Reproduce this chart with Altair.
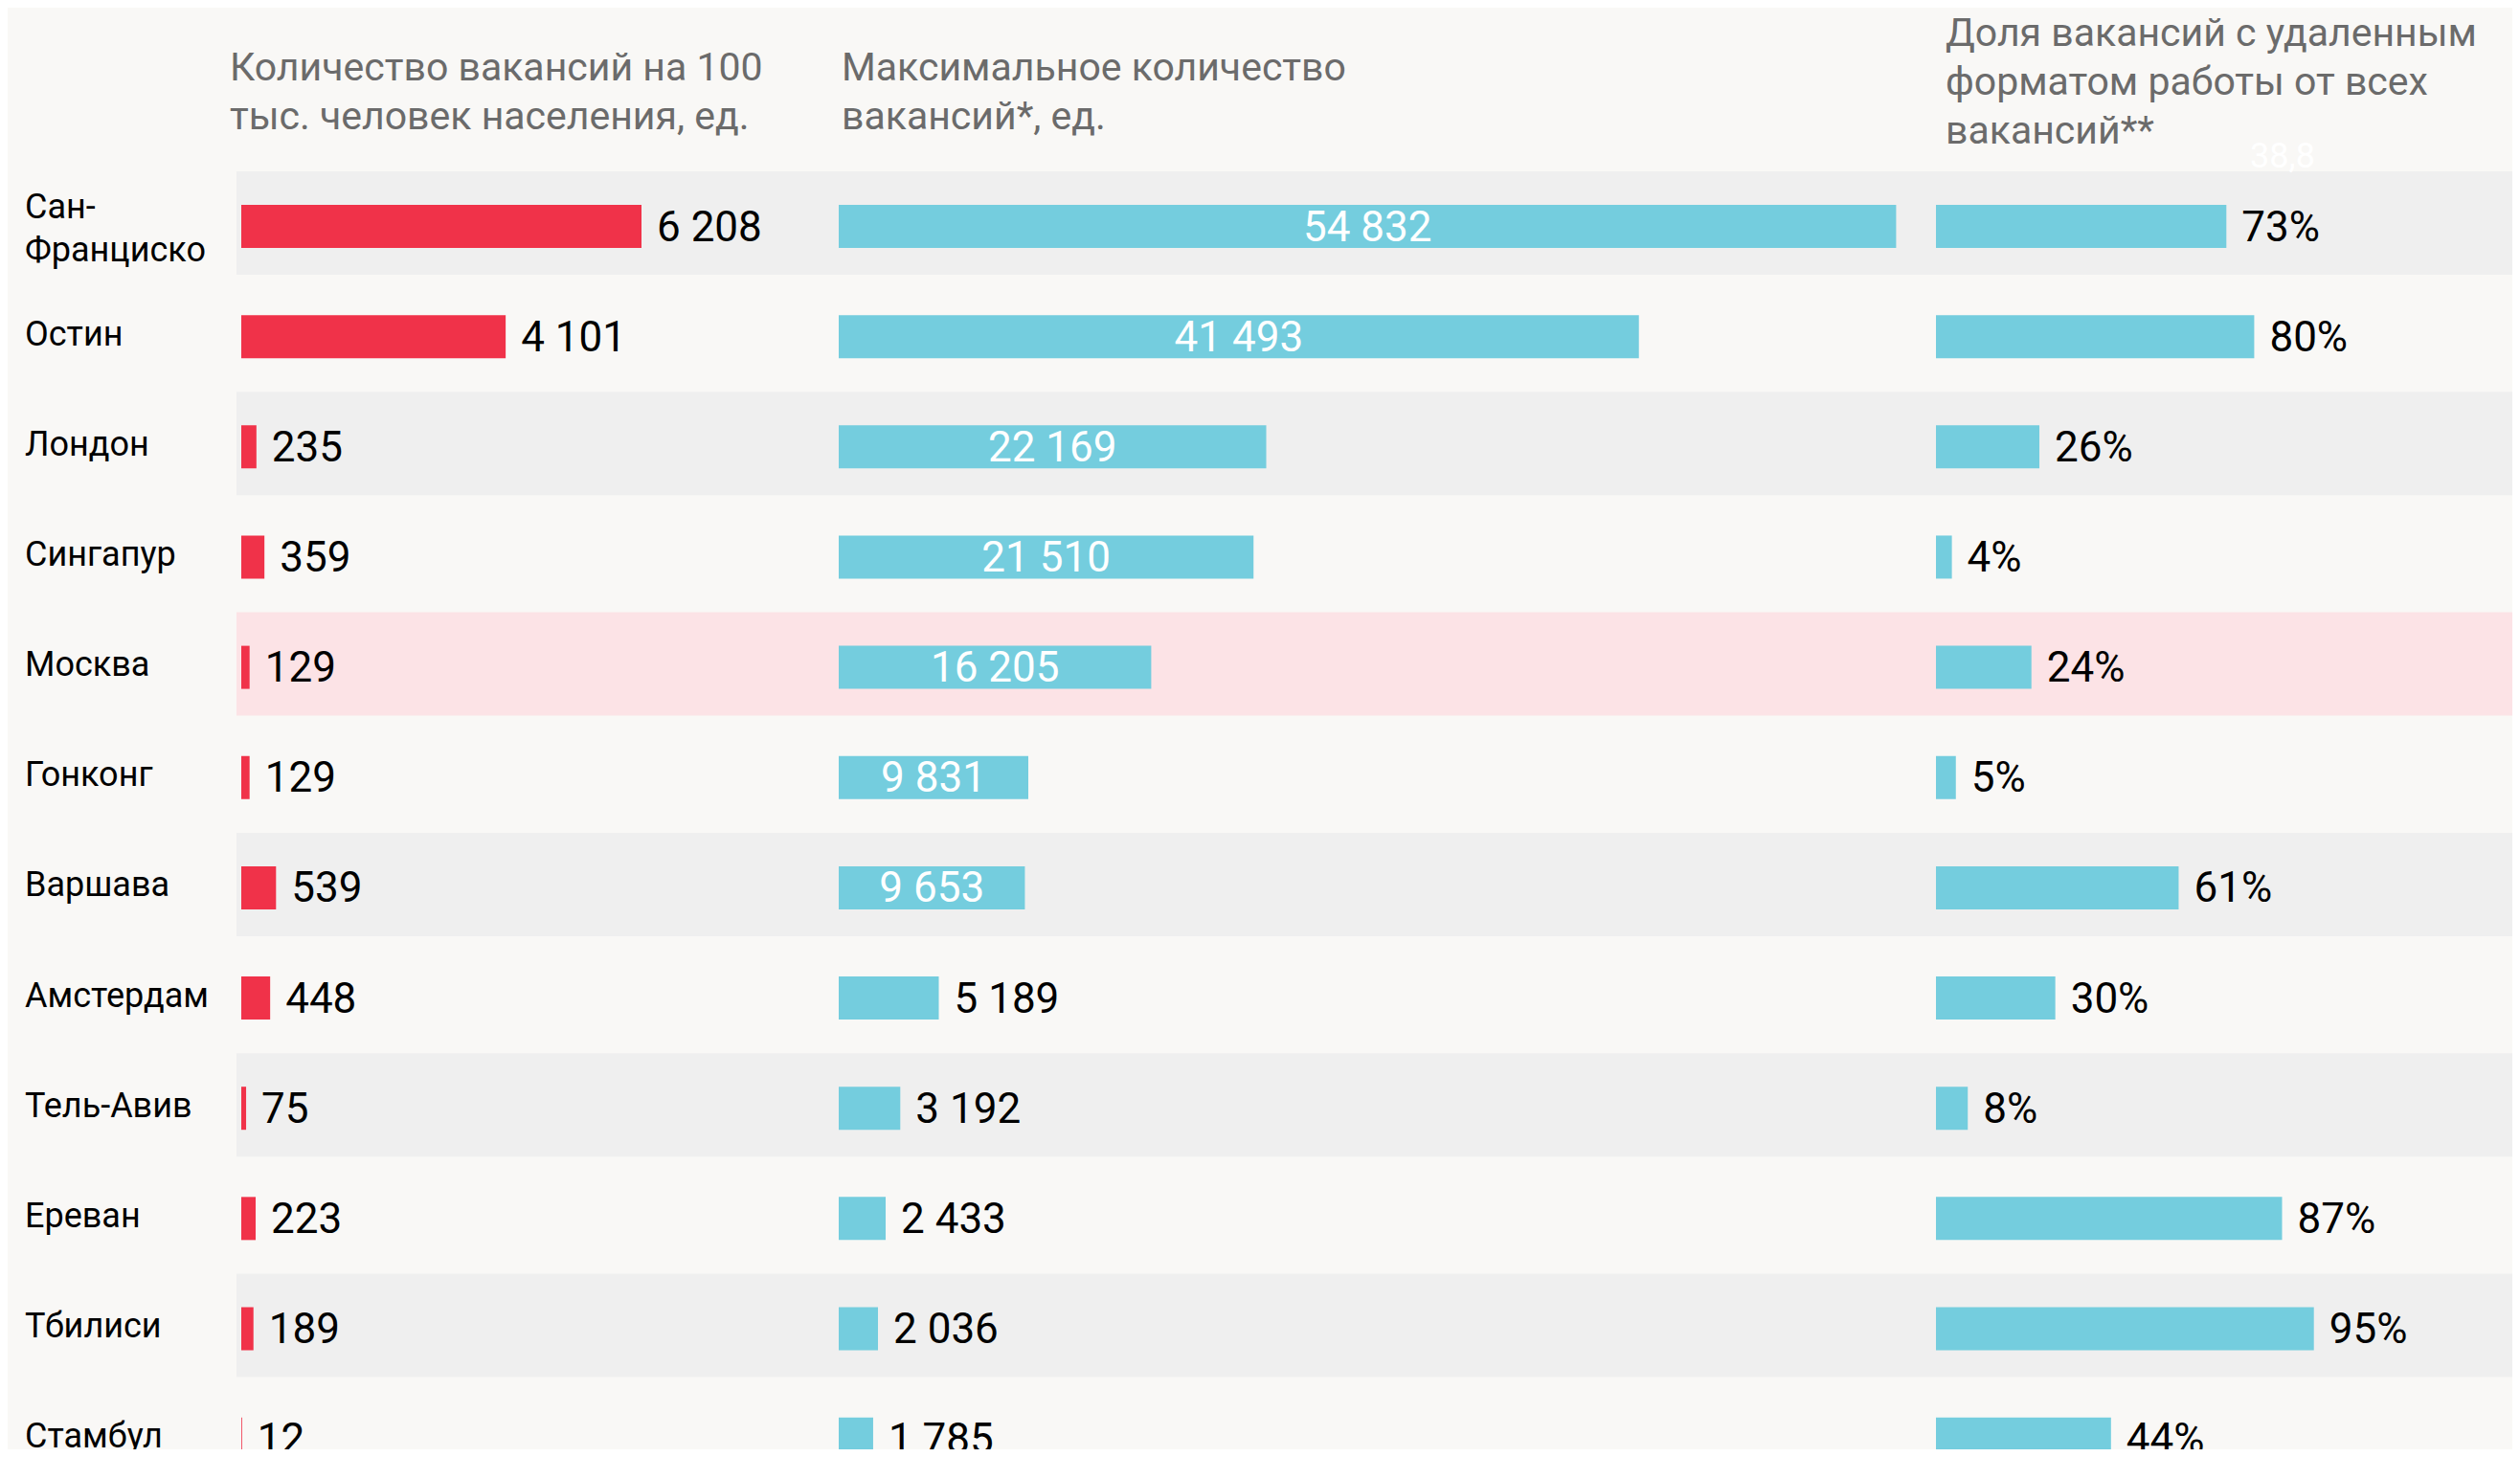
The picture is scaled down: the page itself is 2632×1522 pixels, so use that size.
import altair as alt
import pandas as pd

# ---------------- data ----------------
cities = ["Сан-\nФранциско", "Остин", "Лондон", "Сингапур", "Москва", "Гонконг",
          "Варшава", "Амстердам", "Тель-Авив", "Ереван", "Тбилиси", "Стамбул"]
per_100k = [6208, 4101, 235, 359, 129, 129, 539, 448, 75, 223, 189, 12]
max_vacancies = [54832, 41493, 22169, 21510, 16205, 9831, 9653, 5189, 3192, 2433, 2036, 1785]
remote_share = [73, 80, 26, 4, 24, 5, 61, 30, 8, 87, 95, 44]

headers = [
    "Количество вакансий на 100\nтыс. человек населения, ед.",
    "Максимальное количество\nвакансий*, ед.",
    "Доля вакансий с удаленным\nформатом работы от всех\nвакансий**",
]
stray_label = "38,8"
highlight_city = "Москва"


def fmt(v):
    return f"{v:,}".replace(",", " ")


df = pd.DataFrame({
    "i": list(range(len(cities))),
    "city": cities,
    "v1": per_100k,
    "v2": max_vacancies,
    "v3": remote_share,
    "t1": [fmt(v) for v in per_100k],
    "t2": [fmt(v) for v in max_vacancies],
    "t3": [f"{v}%" for v in remote_share],
})

# ---------------- layout ----------------
W, H = 2616, 1506
ROW0, PITCH = 228.5, 115.15
BAR_HALF = 22.5 / PITCH
BAND_HALF = 54 / PITCH
BAND_OFF = -3.5 / PITCH
LABEL_LH = 45
MULTI_SHIFT = 18 / PITCH

y_d0 = -ROW0 / PITCH
y_d1 = y_d0 + H / PITCH
yscale = alt.Scale(domain=[y_d0, y_d1], reverse=True, nice=False, zero=False)


def xscale(start, px_per_unit):
    return alt.Scale(domain=[-start / px_per_unit, (W - start) / px_per_unit],
                     nice=False, zero=False)


xs1 = xscale(244, 418 / 6208)
xs2 = xscale(868, 1104.4 / 54832)
xs3 = xscale(2014, 4.155)

FONT = "Roboto"
RED = "#f03249"
CYAN = "#74cdde"
VAL_SIZE = 44
VAL_DY = 2

base = alt.Chart(df).transform_calculate(
    y0=f"datum.i - {BAR_HALF}",
    y1=f"datum.i + {BAR_HALF}",
    by0=f"datum.i + {BAND_OFF} - {BAND_HALF}",
    by1=f"datum.i + {BAND_OFF} + {BAND_HALF}",
    ly=f"indexof(datum.city, '\\n') >= 0 ? datum.i - {MULTI_SHIFT} : datum.i",
    bandcol=f"datum.city == '{highlight_city}' ? '#fce3e6' : '#efefef'",
)

bands = base.transform_filter(
    f"datum.i % 2 == 0 || datum.city == '{highlight_city}'"
).mark_rect(clip=True).encode(
    x=alt.value(239),
    x2=alt.value(W),
    y=alt.Y("by0:Q", scale=yscale, axis=None),
    y2="by1:Q",
    color=alt.Color("bandcol:N", scale=None),
)


def bars(field, xs, color):
    return base.mark_rect(color=color, clip=True).encode(
        x=alt.X(f"{field}:Q", scale=xs, axis=None),
        x2=alt.datum(0),
        y=alt.Y("y0:Q", scale=yscale, axis=None),
        y2="y1:Q",
    )


def outside_labels(field, tfield, xs, flt=None):
    b = base if flt is None else base.transform_filter(flt)
    return b.mark_text(align="left", baseline="middle", dx=16, dy=VAL_DY, font=FONT,
                       fontSize=VAL_SIZE, color="#000000", clip=True).encode(
        x=alt.X(f"{field}:Q", scale=xs, axis=None),
        y=alt.Y("i:Q", scale=yscale, axis=None),
        text=f"{tfield}:N",
    )


bars1 = bars("v1", xs1, RED)
lab1 = outside_labels("v1", "t1", xs1)

bars2 = bars("v2", xs2, CYAN)
lab2_out = outside_labels("v2", "t2", xs2, "datum.v2 < 7000")
lab2_in = base.transform_filter("datum.v2 >= 7000").transform_calculate(
    mid="datum.v2 / 2"
).mark_text(align="center", baseline="middle", dy=VAL_DY, font=FONT, fontSize=VAL_SIZE,
            color="#ffffff", clip=True).encode(
    x=alt.X("mid:Q", scale=xs2, axis=None),
    y=alt.Y("i:Q", scale=yscale, axis=None),
    text="t2:N",
)

bars3 = bars("v3", xs3, CYAN)
lab3 = outside_labels("v3", "t3", xs3)

city_labels = base.mark_text(align="left", baseline="middle", font=FONT, fontSize=36,
                             color="#000000", lineBreak="\n", lineHeight=LABEL_LH, dy=-2,
                             clip=True).encode(
    x=alt.value(18),
    y=alt.Y("ly:Q", scale=yscale, axis=None),
    text="city:N",
)


def header(txt, x, y):
    return alt.Chart(pd.DataFrame({"t": [txt]})).mark_text(
        align="left", baseline="alphabetic", font=FONT, fontSize=41,
        color="#6b6b6b", lineBreak="\n", lineHeight=51,
    ).encode(x=alt.value(x), y=alt.value(y), text="t:N")


h1 = header(headers[0], 232, 76)
h2 = header(headers[1], 871, 76)
h3 = header(headers[2], 2024, 40)

stray = alt.Chart(pd.DataFrame({"t": [stray_label]})).mark_text(
    align="center", baseline="alphabetic", font=FONT, fontSize=36, color="#ffffff"
).encode(x=alt.value(2376), y=alt.value(167), text="t:N")

chart = alt.layer(
    bands, bars1, lab1, bars2, lab2_in, lab2_out, bars3, lab3, city_labels,
    h1, h2, h3, stray
).resolve_scale(x="independent").properties(
    width=W, height=H, background="#f9f8f6", padding=0,
    autosize=alt.AutoSizeParams(type="none"),
).configure_view(stroke=None)

chart.save("out.html", embed_options={"renderer": "svg", "actions": False})
